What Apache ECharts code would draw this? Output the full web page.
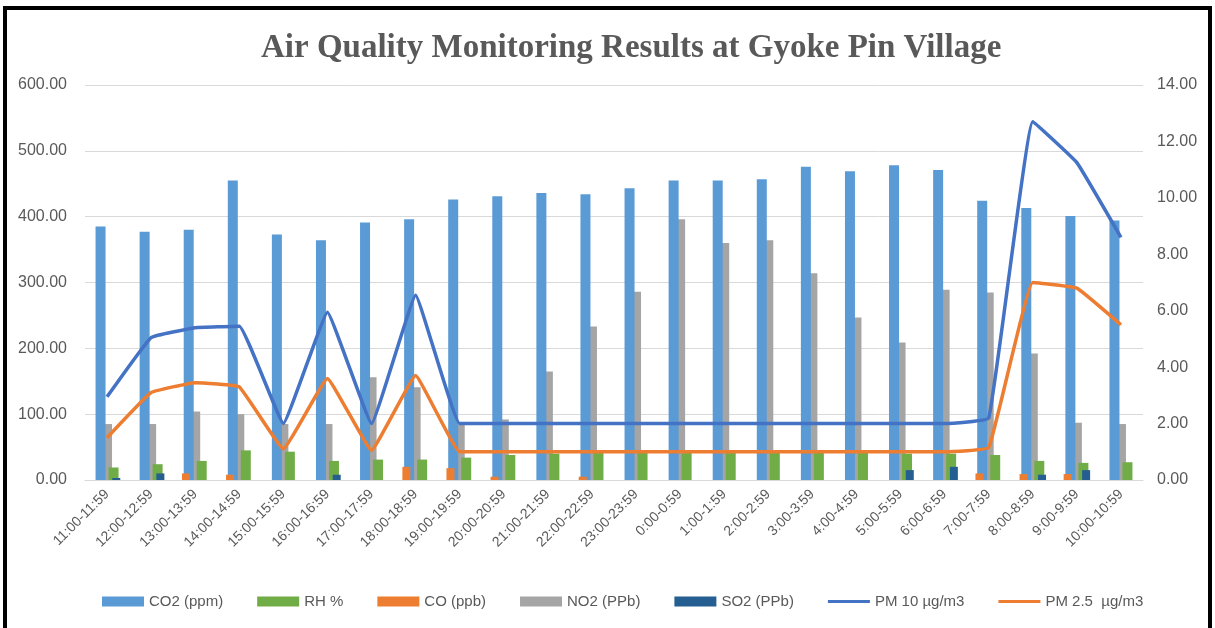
<!DOCTYPE html>
<html>
<head>
<meta charset="utf-8">
<title>Air Quality Monitoring Results at Gyoke Pin Village</title>
<script src="https://cdn.jsdelivr.net/npm/echarts@6/dist/echarts.min.js"></script>
<style>
  html, body { margin: 0; padding: 0; background: #fff; overflow: hidden; }
  #frame { position: absolute; left: 3px; top: 6px; width: 1201px; height: 640px; border: 4px solid #000; }
  #chart { position: absolute; left: 0; top: 0; width: 1215px; height: 628px; }
</style>
</head>
<body>
<div id="frame"></div>
<div id="chart"></div>
<script>
// hourly slots
var hours = ['11:00-11:59', '12:00-12:59', '13:00-13:59', '14:00-14:59', '15:00-15:59', '16:00-16:59',
    '17:00-17:59', '18:00-18:59', '19:00-19:59', '20:00-20:59', '21:00-21:59', '22:00-22:59',
    '23:00-23:59', '0:00-0:59', '1:00-1:59', '2:00-2:59', '3:00-3:59', '4:00-4:59',
    '5:00-5:59', '6:00-6:59', '7:00-7:59', '8:00-8:59', '9:00-9:59', '10:00-10:59'];

// left axis (bars)
var co2 = [385, 377, 380, 455, 373, 364, 391, 396, 426, 431, 436, 434, 443, 455, 455, 457, 476, 469, 478, 471, 424, 413, 401, 394];
var rh = [19, 24, 29, 45, 43, 29, 31, 31, 34, 38, 40, 41, 41, 41, 41, 41, 41, 41, 40, 40, 38, 29, 26, 27];
var co = [0, 0, 10, 8, 0, 0, 0, 20, 18, 5, 0, 5, 0, 0, 0, 0, 0, 0, 0, 0, 10, 9, 9, 0];
var no2 = [85, 85, 104, 100, 85, 85, 156, 141, 84, 92, 165, 233, 286, 396, 360, 364, 314, 247, 209, 289, 285, 192, 87, 85];
var so2 = [3, 10, 0, 0, 0, 8, 0, 0, 0, 0, 0, 0, 0, 0, 0, 0, 0, 0, 15, 20, 0, 8, 15, 0];

// right axis (lines)
var pm10 = [2.95, 5.05, 5.4, 5.45, 2.0, 5.95, 2.0, 6.55, 2, 2, 2, 2, 2, 2, 2, 2, 2, 2, 2, 2, 2.2, 12.7, 11.25, 8.6];
var pm25 = [1.5, 3.1, 3.45, 3.3, 1.1, 3.6, 1.05, 3.7, 1, 1, 1, 1, 1, 1, 1, 1, 1, 1, 1, 1, 1.15, 7.0, 6.8, 5.5];

var leftTicks = { min: 0, max: 600, interval: 100 };
var rightTicks = { min: 0, max: 14, interval: 2 };

var txt = '#595959';
var font = 'Liberation Sans';
// flat stroke for the line entries in the legend
var lineIcon = 'path://M0,0 M0,3.5 L42,3.5 L42,6.5 L0,6.5 Z M42,10';

var myChart = echarts.init(document.getElementById('chart'));
var option = {
    animation: false,
    title: {
        text: 'Air Quality Monitoring Results at Gyoke Pin Village',
        left: 256,
        top: 27,
        textStyle: { fontFamily: 'Liberation Serif', fontWeight: 'bold', fontSize: 33, color: txt }
    },
    legend: {
        bottom: 14,
        left: 97,
        itemWidth: 42,
        itemHeight: 10,
        itemGap: 34,
        textStyle: { fontFamily: font, fontSize: 15, color: txt },
        data: [
            { name: 'CO2 (ppm)', icon: 'rect' },
            { name: 'RH %', icon: 'rect' },
            { name: 'CO (ppb)', icon: 'rect' },
            { name: 'NO2 (PPb)', icon: 'rect' },
            { name: 'SO2 (PPb)', icon: 'rect' },
            { name: 'PM 10 µg/m3', icon: lineIcon },
            { name: 'PM 2.5  µg/m3', icon: lineIcon }
        ]
    },
    grid: { left: 85, right: 72, top: 85, bottom: 148 },
    xAxis: [{
        type: 'category',
        data: hours,
        axisLine: { lineStyle: { color: '#d9d9d9' } },
        axisTick: { show: false },
        axisLabel: { rotate: 45, fontFamily: font, fontSize: 14, color: txt, margin: 12, interval: 0 }
    }, {
        type: 'category',
        data: hours,
        show: false
    }],
    yAxis: [{
        type: 'value',
        min: leftTicks.min, max: leftTicks.max, interval: leftTicks.interval,
        axisLine: { show: false },
        axisTick: { show: false },
        splitLine: { lineStyle: { color: '#d9d9d9' } },
        axisLabel: { fontFamily: font, fontSize: 16, color: txt, margin: 18,
            formatter: function (v) { return v.toFixed(2); } }
    }, {
        type: 'value',
        min: rightTicks.min, max: rightTicks.max, interval: rightTicks.interval,
        axisLine: { show: false },
        axisTick: { show: false },
        splitLine: { show: false },
        axisLabel: { fontFamily: font, fontSize: 16, color: txt, margin: 14,
            formatter: function (v) { return v.toFixed(2); } }
    }],
    series: [
        // main cluster
        { name: 'CO2 (ppm)', type: 'bar', data: co2, barWidth: 10, barGap: '-35%', z: 3,
          itemStyle: { color: '#5b9bd5' } },
        { name: 'NO2 (PPb)', type: 'bar', data: no2, barWidth: 10, barGap: '-35%', z: 2,
          itemStyle: { color: '#a5a5a5' } },
        { name: 'RH %', type: 'bar', data: rh, barWidth: 10, barGap: '-35%', z: 4,
          itemStyle: { color: '#70ad47' } },
        // small bars sit either side of the main cluster
        { name: 'CO (ppb)', type: 'bar', xAxisIndex: 1, data: co, barWidth: 8, barGap: '131%', z: 5,
          itemStyle: { color: '#ed7d31' } },
        { name: 'SO2 (PPb)', type: 'bar', xAxisIndex: 1, data: so2, barWidth: 8, barGap: '131%', z: 5,
          itemStyle: { color: '#255e91' } },
        { name: 'PM 10 µg/m3', type: 'line', yAxisIndex: 1, data: pm10, smooth: 0.08,
          symbol: 'none', z: 6, lineStyle: { width: 3.5, color: '#4472c4' }, itemStyle: { color: '#4472c4' } },
        { name: 'PM 2.5  µg/m3', type: 'line', yAxisIndex: 1, data: pm25, smooth: 0.08,
          symbol: 'none', z: 6, lineStyle: { width: 3.5, color: '#ed7d31' }, itemStyle: { color: '#ed7d31' } }
    ]
};
myChart.setOption(option);
</script>
</body>
</html>
